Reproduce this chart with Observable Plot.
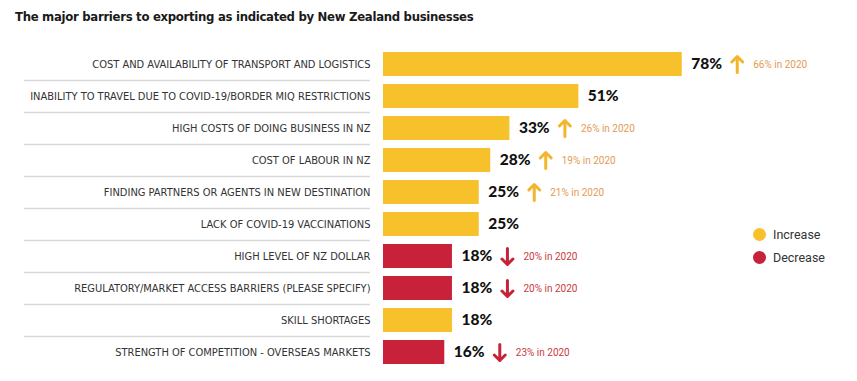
<!DOCTYPE html>
<html><head><meta charset="utf-8">
<script src="https://cdn.jsdelivr.net/npm/d3@7"></script>
<script src="https://cdn.jsdelivr.net/npm/@observablehq/plot@0.6"></script>
<style>
body{margin:0;background:#fff;}
#wrap{position:relative;width:857px;height:381px;overflow:hidden;}
#title{position:absolute;left:15px;top:9px;font:700 13px "DejaVu Sans Condensed",Roboto,sans-serif;letter-spacing:-0.3px;color:#1a1a1a;white-space:nowrap;}
#chart{position:absolute;left:0;top:36px;}
#legend{position:absolute;left:753px;top:223px;font:12.5px Roboto,sans-serif;color:#333;}
#legend div{display:flex;align-items:center;height:23px;}
#legend span.sw{display:inline-block;width:13px;height:13px;border-radius:50%;margin-right:7px;}
</style></head>
<body><div id="wrap"><div id="title">The major barriers to exporting as indicated by New Zealand businesses</div><div id="chart"></div><div id="legend"></div></div>
<script>
const labels = [
  "COST AND AVAILABILITY OF TRANSPORT AND LOGISTICS",
  "INABILITY TO TRAVEL DUE TO COVID-19/BORDER MIQ RESTRICTIONS",
  "HIGH COSTS OF DOING BUSINESS IN NZ",
  "COST OF LABOUR IN NZ",
  "FINDING PARTNERS OR AGENTS IN NEW DESTINATION",
  "LACK OF COVID-19 VACCINATIONS",
  "HIGH LEVEL OF NZ DOLLAR",
  "REGULATORY/MARKET ACCESS BARRIERS (PLEASE SPECIFY)",
  "SKILL SHORTAGES",
  "STRENGTH OF COMPETITION - OVERSEAS MARKETS"
];
const values = [78, 51, 33, 28, 25, 25, 18, 18, 18, 16];
const status = ["Increase","Increase","Increase","Increase","Increase","Increase","Decrease","Decrease","Increase","Decrease"];
const direction = ["up", null, "up", "up", "up", null, "down", "down", null, "down"];
const prior2020 = [66, null, 26, 19, 21, null, 20, 20, null, 23];
const legendKeys = ["Increase", "Decrease"];
const colors = ["#f6c12a", "#c8223a"];
const noteColors = {up: "#e39b55", down: "#c93a44"};
const arrowColors = {up: "#f3b52c", down: "#c8223a"};

const data = labels.map((label, i) => ({label, value: values[i], status: status[i], dir: direction[i], prior: prior2020[i], idx: i}));
const changed = data.filter(d => d.dir);

const chart = Plot.plot({
  width: 857,
  height: 345,
  marginLeft: 383,
  marginRight: 91,
  marginTop: 11,
  marginBottom: 11,
  style: {fontFamily: '"DejaVu Sans Condensed",Roboto,sans-serif', fontSize: "11px", color: "#333", background: "#fff"},
  x: {domain: [0, 100], axis: null},
  y: {domain: labels, paddingInner: 0.24, paddingOuter: 0.12, tickSize: 0, tickPadding: 13, label: null},
  color: {domain: legendKeys, range: colors},
  marks: [
    Plot.ruleY(data.filter(d => d.idx < labels.length - 1), {y: "label", dy: 16, insetLeft: -359, insetRight: 396, stroke: "#d9d9d9", strokeWidth: 1.5}),
    Plot.barX(data, {x: "value", y: "label", fill: "status"}),
    Plot.text(data, {x: "value", y: "label", text: d => d.value + "%", dx: 9, textAnchor: "start", fontFamily: "Lato, Roboto, sans-serif", fontWeight: 900, fontSize: 15.5, fill: "#111"}),
    Plot.vector(changed, {x: "value", y: "label", dx: 55, length: 16, r: 6, anchor: "middle", rotate: d => d.dir === "up" ? 0 : 180, stroke: d => arrowColors[d.dir], strokeWidth: 3}),
    Plot.text(changed, {x: "value", y: "label", dx: 71, text: d => `${d.prior}% in 2020`, textAnchor: "start", fontFamily: "Roboto, sans-serif", fontSize: 10, fill: d => noteColors[d.dir]})
  ]
});
document.getElementById("chart").appendChild(chart);

const legend = document.getElementById("legend");
legendKeys.forEach((k, i) => {
  const row = document.createElement("div");
  row.innerHTML = `<span class="sw" style="background:${colors[i]}"></span>${k}`;
  legend.appendChild(row);
});
</script>
</body></html>
